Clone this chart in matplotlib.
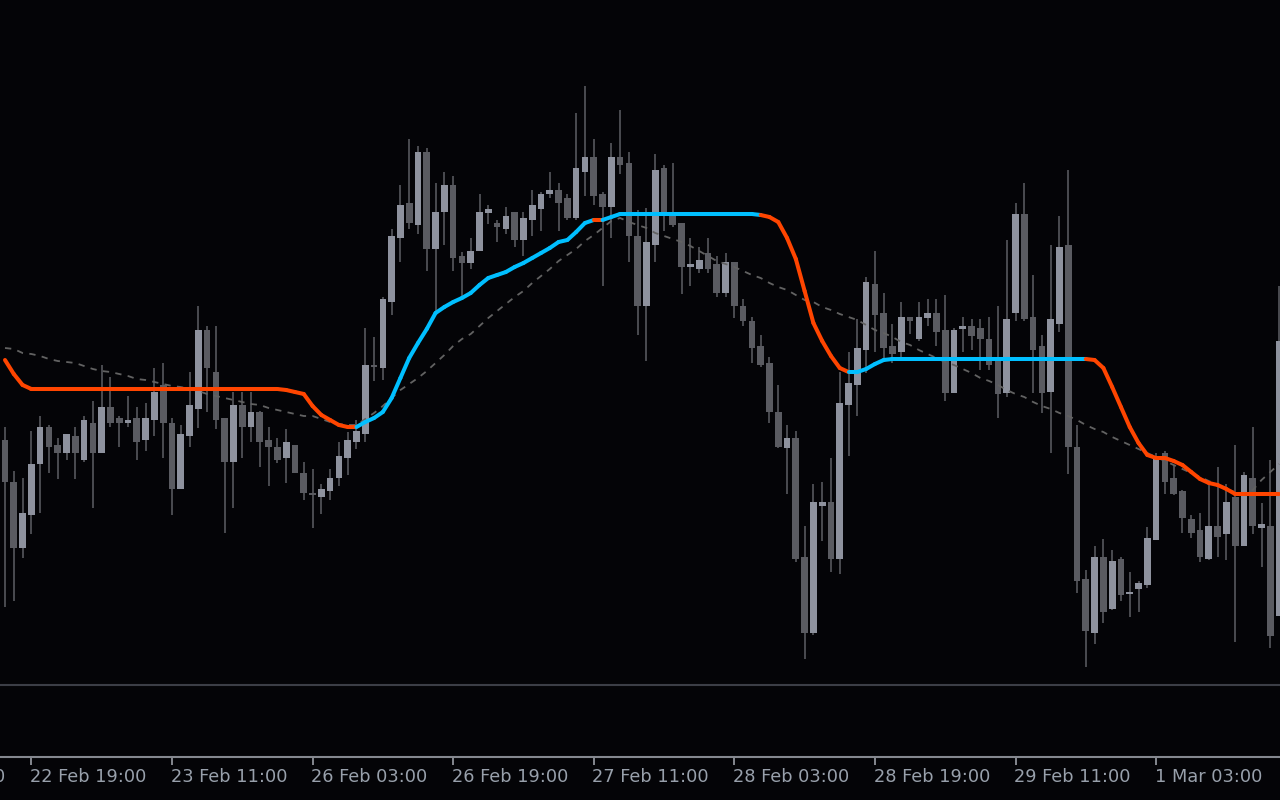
import numpy as np
import matplotlib
matplotlib.use("Agg")
import matplotlib.pyplot as plt
from matplotlib.collections import LineCollection

# ---------------- data (hourly bars, price units arbitrary) ----------------
opens = [
    560, 518, 452, 485, 536, 573, 555, 547, 564, 540,
    577, 547, 593, 582, 577, 582, 560, 580, 615, 577,
    511, 564, 591, 670, 628, 582, 538, 595, 573, 588,
    560, 553, 542, 555, 527, 507, 503, 509, 522, 542,
    558, 566, 635, 632, 698, 762, 797, 775, 848, 751,
    788, 815, 744, 737, 749, 787, 777, 771, 788, 760,
    780, 791, 806, 810, 802, 782, 828, 843, 806, 793,
    843, 837, 764, 694, 755, 832, 784, 777, 733, 731,
    747, 736, 707, 738, 694, 679, 654, 637, 588, 552,
    562, 443, 367, 494, 498, 441, 595, 615, 650, 716,
    687, 654, 648, 683, 661, 682, 687, 670, 607, 671,
    674, 672, 661, 642, 607, 687, 786, 683, 654, 608,
    676, 755, 553, 421, 367, 443, 391, 441, 406, 411,
    415, 460, 547, 522, 509, 481, 470, 441, 474, 466,
    503, 454, 522, 472, 474, 384,
]
highs = [
    573, 529, 522, 569, 584, 575, 562, 566, 573, 584,
    599, 635, 623, 584, 604, 593, 597, 632, 637, 582,
    575, 628, 694, 674, 674, 582, 608, 608, 608, 589,
    573, 562, 571, 555, 538, 531, 516, 531, 558, 568,
    580, 672, 663, 703, 771, 815, 861, 854, 852, 817,
    828, 824, 748, 762, 806, 795, 780, 793, 788, 788,
    810, 808, 828, 817, 806, 887, 914, 861, 808, 857,
    890, 848, 790, 792, 846, 835, 837, 777, 762, 753,
    762, 744, 747, 738, 701, 683, 665, 643, 615, 575,
    569, 474, 516, 518, 542, 628, 648, 681, 723, 749,
    707, 676, 698, 683, 698, 701, 701, 705, 672, 683,
    681, 681, 683, 694, 760, 797, 817, 725, 665, 755,
    784, 830, 575, 430, 454, 461, 450, 443, 428, 419,
    473, 547, 549, 535, 510, 485, 487, 515, 533, 516,
    555, 528, 573, 497, 540, 714,
]
lows = [
    393, 399, 442, 466, 487, 527, 521, 540, 521, 538,
    492, 547, 573, 553, 573, 540, 549, 564, 542, 485,
    511, 553, 572, 588, 571, 467, 492, 542, 558, 533,
    514, 537, 517, 527, 500, 472, 486, 500, 514, 525,
    551, 558, 619, 620, 685, 738, 771, 766, 729, 687,
    755, 729, 703, 731, 749, 776, 758, 766, 753, 744,
    764, 769, 802, 769, 780, 780, 804, 795, 714, 762,
    826, 738, 665, 639, 738, 769, 773, 706, 714, 727,
    727, 703, 703, 682, 674, 637, 633, 577, 552, 506,
    438, 341, 365, 459, 428, 426, 544, 584, 627, 648,
    642, 637, 643, 666, 659, 674, 654, 599, 607, 648,
    650, 630, 630, 582, 603, 679, 679, 607, 587, 547,
    668, 526, 407, 333, 356, 377, 390, 399, 383, 388,
    412, 460, 506, 505, 467, 462, 438, 440, 443, 440,
    358, 454, 466, 433, 352, 384,
]
closes = [
    518, 452, 487, 536, 573, 553, 547, 566, 547, 580,
    547, 593, 577, 577, 580, 558, 582, 608, 577, 511,
    566, 595, 670, 632, 580, 538, 595, 573, 588, 558,
    553, 540, 558, 527, 507, 505, 511, 522, 544, 560,
    569, 635, 633, 701, 764, 795, 777, 848, 751, 788,
    815, 742, 737, 749, 788, 791, 773, 784, 760, 782,
    795, 806, 810, 797, 782, 832, 843, 804, 793, 843,
    835, 764, 694, 758, 830, 788, 775, 733, 736, 740,
    731, 707, 738, 694, 679, 652, 635, 588, 553, 562,
    441, 367, 498, 498, 441, 597, 617, 652, 718, 685,
    652, 646, 683, 679, 683, 687, 668, 607, 670, 674,
    664, 661, 635, 606, 681, 786, 681, 650, 607, 681,
    753, 553, 419, 369, 443, 388, 439, 405, 408, 417,
    462, 542, 518, 506, 482, 467, 443, 474, 463, 498,
    454, 525, 474, 476, 364, 659,
]

# trailing trend line (orange = down, blue = up)
trend_line = [
    640, 626, 615, 611, 611, 611, 611, 611, 611, 611,
    611, 611, 611, 611, 611, 611, 611, 611, 611, 611,
    611, 611, 611, 611, 611, 611, 611, 611, 611, 611,
    611, 611, 610, 608, 606, 594, 585, 580, 575, 573,
    573, 578, 582, 588, 602, 622, 642, 657, 671, 687,
    693, 698, 702, 707, 715, 722, 725, 728, 733, 737,
    742, 747, 752, 758, 760, 768, 777, 780, 780, 783,
    786, 786, 786, 786, 786, 786, 786, 786, 786, 786,
    786, 786, 786, 786, 786, 786, 785, 783, 778, 762,
    741, 709, 677, 659, 644, 632, 628, 628, 631, 636,
    640, 641, 641, 641, 641, 641, 641, 641, 641, 641,
    641, 641, 641, 641, 641, 641, 641, 641, 641, 641,
    641, 641, 641, 641, 640, 632, 613, 593, 573, 557,
    545, 542, 542, 539, 535, 528, 521, 517, 515, 511,
    506, 506, 506, 506, 506, 506,
]
# direction runs of the trend line: (direction, number of bars)
trend_runs = [(-1, 40), (1, 27), (-1, 1), (1, 18), (-1, 10), (1, 27), (-1, 23)]

# slow moving average (dotted)
slow_ma = [
    652, 651, 647, 646, 644, 641, 639, 638, 637, 634,
    631, 629, 628, 626, 624, 621, 620, 618, 616, 614,
    613, 611, 609, 606, 604, 602, 600, 598, 596, 595,
    592, 590, 588, 586, 584, 584, 581, 578, 576, 575,
    575, 581, 587, 594, 602, 610, 616, 622, 629, 637,
    645, 654, 661, 666, 674, 682, 689, 696, 703, 709,
    717, 724, 731, 739, 745, 751, 759, 765, 772, 779,
    782, 778, 775, 772, 767, 764, 761, 758, 754, 749,
    744, 739, 736, 733, 729, 725, 722, 717, 713, 710,
    705, 700, 698, 693, 690, 686, 683, 680, 675, 670,
    667, 663, 658, 655, 650, 646, 642, 638, 635, 631,
    627, 622, 619, 615, 610, 606, 603, 598, 594, 591,
    587, 584, 580, 575, 571, 568, 563, 559, 555, 551,
    547, 543, 539, 535, 531, 527, 523, 519, 515, 511,
    508, 506, 510, 520, 528, 536,
]

tick_bars = [-13, 3, 19, 35, 51, 67, 83, 99, 115, 131]
tick_labels = ["22 Feb 03:00", "22 Feb 19:00", "23 Feb 11:00", "26 Feb 03:00",
               "26 Feb 19:00", "27 Feb 11:00", "28 Feb 03:00", "28 Feb 19:00",
               "29 Feb 11:00", "1 Mar 03:00"]

# ---------------- styling ----------------
BG = "#040407"
BULL = "#8e929e"
BEAR = "#5a5b61"
WICK = "#4a4b50"
UP_COL = "#00bfff"
DN_COL = "#ff4500"
MA_COL = "#626262"
AXIS_COL = "#85888f"
SEP_COL = "#3c3e46"
TXT_COL = "#98a0ab"

W, H = 1280, 800
fig = plt.figure(figsize=(W / 100, H / 100), dpi=100, facecolor=BG)

xmin, xmax = -0.569, 145.1

ax = fig.add_axes([0, 115 / H, 1, 685 / H], facecolor=BG)
ax.set_xlim(xmin, xmax)
ax.set_ylim(315, 1000)
ax.set_axis_off()

o = np.array(opens, float)
h = np.array(highs, float)
l = np.array(lows, float)
c = np.array(closes, float)
x = np.arange(len(o))
up = c >= o

ax.vlines(x, l, h, colors=WICK, lw=1.4, zorder=1)
body_bottom = np.minimum(o, c)
body_h = np.maximum(np.abs(c - o), 1.5)
ax.bar(x, body_h, width=0.76, bottom=body_bottom,
       color=np.where(up, BULL, BEAR), linewidth=0, zorder=2)

ax.plot(x, slow_ma, color=MA_COL, lw=1.3, dashes=(3.5, 3.5), zorder=3)

dirs = np.concatenate([np.full(n, d) for d, n in trend_runs])
tl = np.array(trend_line, float)
segs = [[(i, tl[i]), (i + 1, tl[i + 1])] for i in range(len(tl) - 1)]
cols = [UP_COL if dirs[i] > 0 else DN_COL for i in range(len(tl) - 1)]
lc = LineCollection(segs, colors=cols, linewidths=2.9, capstyle="round", zorder=4)
ax.add_collection(lc)

# ---------------- lower (empty) pane with time axis ----------------
ax2 = fig.add_axes([0, 43 / H, 1, 72 / H], facecolor=BG)
ax2.set_yticks([])
for s in ("left", "right"):
    ax2.spines[s].set_visible(False)
ax2.spines["top"].set_color(SEP_COL)
ax2.spines["top"].set_linewidth(1.5)
ax2.spines["bottom"].set_color(AXIS_COL)
ax2.spines["bottom"].set_linewidth(1.5)
visible_ticks = [t for t in tick_bars if xmin <= t <= xmax]
ax2.set_xticks(visible_ticks)
ax2.set_xticklabels([])
ax2.tick_params(axis="x", direction="out", length=5.5, width=1.4, color=AXIS_COL)
ax2.set_xlim(xmin, xmax)
ax2.set_ylim(0, 1)

for tb, lab in zip(tick_bars, tick_labels):
    ax2.annotate(lab, xy=(tb, 0), xycoords=("data", "axes fraction"),
                 xytext=(-1.0, -7.8), textcoords="offset points",
                 ha="left", va="top", fontsize=12.8, color=TXT_COL,
                 family="DejaVu Sans", annotation_clip=False, clip_on=False)

fig.savefig("out.png", dpi=100, facecolor=BG)
